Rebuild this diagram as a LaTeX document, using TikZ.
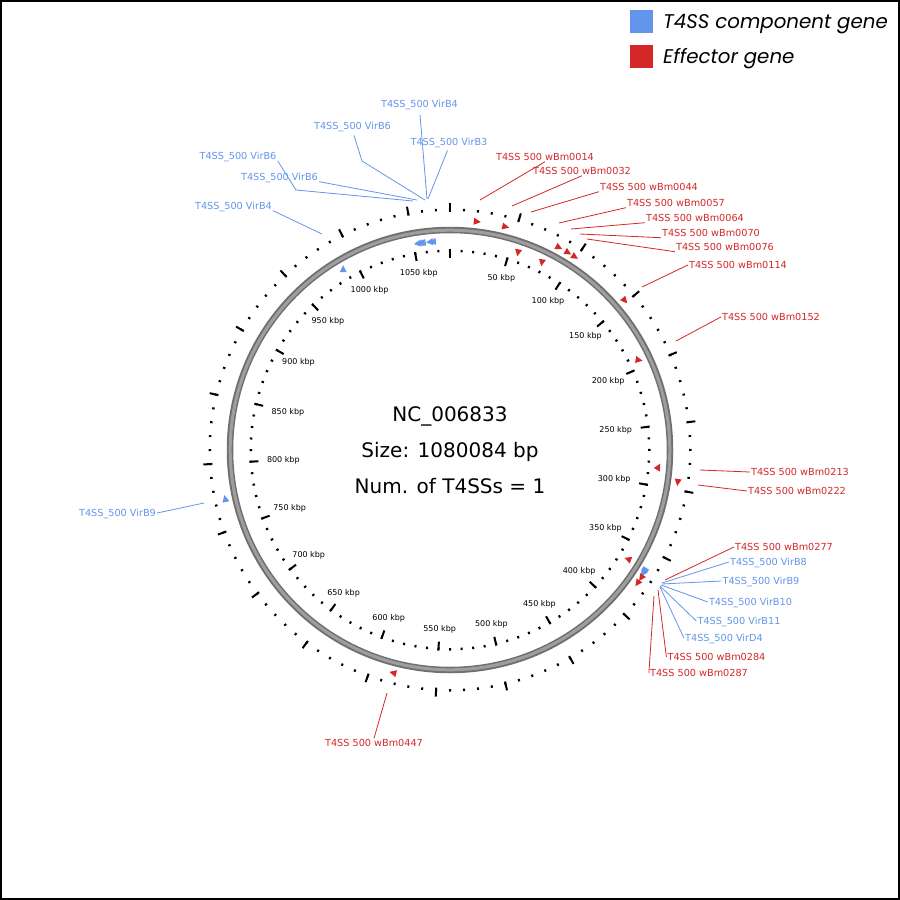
\documentclass[tikz,border=0pt]{standalone}
\usepackage{fontspec}
\setmainfont{DejaVu Sans}
\newfontfamily\legendfont{Poppins}
\usetikzlibrary{calc}

\definecolor{t4blue}{RGB}{100,149,237}
\definecolor{effred}{RGB}{212,40,40}
\definecolor{ringdark}{RGB}{112,112,112}
\definecolor{ringlight}{RGB}{158,158,158}

% genome length in kbp
\newcommand{\glen}{1080.084}
% gene marker: position (kbp), radius, colour, tip direction
\newcommand{\gene}[4]{%
  \fill[#3, shift={({#1/\glen*360-90}:#2)}, rotate=#4] (4,0) -- (-3,3.5) -- (-3,-3.5) -- cycle;}

\tikzset{
  lbl/.style={inner sep=1pt, font=\fontsize{9.7}{11}\selectfont, text height=7pt, text depth=0pt},
  effector/.style={lbl, text=effred},
  component/.style={lbl, text=t4blue},
  efline/.style={draw=effred, line width=0.8pt},
  cpline/.style={draw=t4blue, line width=0.8pt},
  minortick/.style={line width=2pt},
  majortick/.style={line width=2pt},
  ticklabel/.style={inner sep=0.5pt, font=\fontsize{8}{9}\selectfont},
  centertext/.style={anchor=base, inner sep=0pt, font=\fontsize{20}{24}\selectfont},
  legbox/.style={minimum size=23pt, inner sep=0pt},
  legtext/.style={anchor=base west, inner sep=0pt, font=\legendfont\itshape\fontsize{19.8}{22}\selectfont}
}

\begin{document}
\begin{tikzpicture}[x=1pt, y={(0pt,-1pt)}]
\fill[white] (0,0) rectangle (900,900);
\useasboundingbox (0,0) rectangle (900,900);
\draw[line width=2pt] (1,1) rectangle (899,899);

% legend
\node[legbox, fill=t4blue] (keyT4) at (641,21.5) {};
\node[legtext] (keyT4txt) at (663,28) {T4SS component gene};
\node[legbox, fill=effred] (keyEff) at (641,56.5) {};
\node[legtext] (keyEfftxt) at (663,63) {Effector gene};

\begin{scope}[shift={(450,450)}]
  % backbone
  \draw[ringdark, line width=6.5pt] (0,0) circle[radius=220pt];
  \draw[ringlight, line width=3pt] (0,0) circle[radius=219.8pt];

  % scale ticks
  \foreach \k in {0,10,...,1080}{
    \pgfmathsetmacro{\t}{\k/\glen*360-90}
    \draw[minortick] (\t:198) -- (\t:200.5);
    \draw[minortick] (\t:239) -- (\t:241.5);
  }
  \foreach \k in {0,50,...,1050}{
    \pgfmathsetmacro{\t}{\k/\glen*360-90}
    \draw[majortick] (\t:192) -- (\t:201);
    \draw[majortick] (\t:238) -- (\t:247);
  }
  \foreach \k in {50,100,...,1050}{
    \pgfmathsetmacro{\t}{\k/\glen*360-90}
    \pgfmathsetmacro{\an}{mod(450-\k/\glen*360,360)}
    \node[ticklabel, anchor=\an] (tick\k) at (\t:184) {\k\ kbp};
  }

  % T4SS component genes
  \foreach \p in {1053.5,1055.5,1057.5,1063.5,1066}
    \gene{\p}{209}{t4blue}{180-\p/\glen*360};
  \gene{988.3}{210}{t4blue}{90}
  \gene{773.2}{230}{t4blue}{-773.2/\glen*360}
  \foreach \p in {365.3,366.1,366.9,367.7}
    \gene{\p}{229}{t4blue}{-\p/\glen*360};

  % effector genes, outer strand
  \foreach \p in {20.1,41.7,84.6,92.4,98.4,148.2,294.0,371.1,375.9,582.9}
    \gene{\p}{230}{effred}{-\p/\glen*360};
  % effector genes, inner strand
  \gene{57.0}{209}{effred}{-100}
  \gene{78.3}{209}{effred}{-100}
  \gene{193.5}{209}{effred}{-10}
  \gene{284.1}{209}{effred}{60}
  \gene{364.5}{209}{effred}{160}
\end{scope}

% genome summary
\node[centertext] (name) at (450,421) {NC\_006833};
\node[centertext] (size) at (450,457) {Size: 1080084 bp};
\node[centertext] (count) at (450,493) {Num. of T4SSs = 1};

% component labels
\node[component] (virB4a) at (419.5,104) {T4SS\_500 VirB4};
\node[component] (virB3) at (449,142) {T4SS\_500 VirB3};
\node[component] (virB6a) at (352.5,126) {T4SS\_500 VirB6};
\node[component] (virB6b) at (238,156) {T4SS\_500 VirB6};
\node[component] (virB6c) at (279.5,177) {T4SS\_500 VirB6};
\node[component] (virB4b) at (233.5,206) {T4SS\_500 VirB4};
\node[component] (virB9l) at (117.5,513) {T4SS\_500 VirB9};
\node[component] (virB8) at (768.5,562) {T4SS\_500 VirB8};
\node[component] (virB9) at (761,581) {T4SS\_500 VirB9};
\node[component] (virB10) at (750.5,602) {T4SS\_500 VirB10};
\node[component] (virB11) at (739,621) {T4SS\_500 VirB11};
\node[component] (virD4) at (724,638) {T4SS\_500 VirD4};

\coordinate (rB4a) at (427,199);
\coordinate (rB3) at (428,199);
\coordinate (rB6a) at (425,200);
\coordinate (rB6b) at (413,201);
\coordinate (rB6c) at (417,200);
\coordinate (rB4b) at (322,234);
\coordinate (rB9l) at (204,503);
\coordinate (rB8) at (662,583);
\coordinate (rB9) at (662,584);
\coordinate (rB10) at (661,585);
\coordinate (rB11) at (660,586);
\coordinate (rD4) at (660,587);
\coordinate (kB6a) at (362,161);
\coordinate (kB6b) at (296,190);

\draw[cpline, shorten <=6pt] (virB4a.south) -- (rB4a);
\draw[cpline, shorten <=4pt] (virB3.south) -- (rB3);
\draw[cpline, shorten <=5pt] (virB6a.south) -- (kB6a) -- (rB6a);
\draw[cpline] (virB6b.south east) -- (kB6b) -- (rB6b);
\draw[cpline] (virB6c.south east) -- (rB6c);
\draw[cpline] (virB4b.south east) -- (rB4b);
\draw[cpline] (virB9l.east) -- (rB9l);
\draw[cpline] (virB8.west) -- (rB8);
\draw[cpline] (virB9.west) -- (rB9);
\draw[cpline] (virB10.west) -- (rB10);
\draw[cpline] (virB11.west) -- (rB11);
\draw[cpline] (virD4.west) -- (rD4);

% effector labels
\node[effector] (w0014) at (545,157) {T4SS 500 wBm0014};
\node[effector] (w0032) at (582,171) {T4SS 500 wBm0032};
\node[effector] (w0044) at (649,187) {T4SS 500 wBm0044};
\node[effector] (w0057) at (676,203) {T4SS 500 wBm0057};
\node[effector] (w0064) at (695,218) {T4SS 500 wBm0064};
\node[effector] (w0070) at (711,233) {T4SS 500 wBm0070};
\node[effector] (w0076) at (725,247) {T4SS 500 wBm0076};
\node[effector] (w0114) at (738,265) {T4SS 500 wBm0114};
\node[effector] (w0152) at (771,317) {T4SS 500 wBm0152};
\node[effector] (w0213) at (800,472) {T4SS 500 wBm0213};
\node[effector] (w0222) at (797,491) {T4SS 500 wBm0222};
\node[effector] (w0277) at (784,547) {T4SS 500 wBm0277};
\node[effector] (w0284) at (716.5,657) {T4SS 500 wBm0284};
\node[effector] (w0287) at (699,673) {T4SS 500 wBm0287};
\node[effector] (w0447) at (374,743) {T4SS 500 wBm0447};

\coordinate (r0014) at (480,200);
\coordinate (r0032) at (512,206);
\coordinate (r0044) at (531,212);
\coordinate (r0057) at (559,223);
\coordinate (r0064) at (571,229);
\coordinate (r0070) at (580,234);
\coordinate (r0076) at (587,239);
\coordinate (r0114) at (642,287);
\coordinate (r0152) at (676,341);
\coordinate (r0213) at (700,470);
\coordinate (r0222) at (698,485);
\coordinate (r0277) at (665,580);
\coordinate (r0284) at (658,590);
\coordinate (r0287) at (654,596);
\coordinate (r0447) at (387,693);

\draw[efline] (r0014) -- (w0014.south);
\draw[efline] (r0032) -- (w0032.south);
\draw[efline] (r0044) -- (w0044.south west);
\draw[efline] (r0057) -- (w0057.south west);
\draw[efline] (r0064) -- (w0064.south west);
\draw[efline] (r0070) -- (w0070.south west);
\draw[efline] (r0076) -- (w0076.south west);
\draw[efline] (r0114) -- (w0114.west);
\draw[efline] (r0152) -- (w0152.west);
\draw[efline] (r0213) -- (w0213.west);
\draw[efline] (r0222) -- (w0222.west);
\draw[efline] (r0277) -- (w0277.west);
\draw[efline] (r0284) -- (w0284.west);
\draw[efline] (r0287) -- (w0287.west);
\draw[efline] (r0447) -- (w0447.north);
\end{tikzpicture}
\end{document}
